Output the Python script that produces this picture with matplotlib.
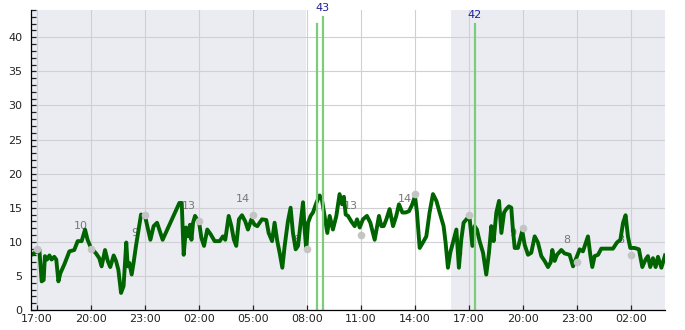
import matplotlib

matplotlib.use("Agg")
import matplotlib.dates as mdates
import matplotlib.pyplot as plt
import pandas as pd
from matplotlib.ticker import MultipleLocator

START = pd.Timestamp("2024-01-01 17:00")

# main trace: hours after START, value
trace_hours = [
    -0.30, 0.00, 0.13, 0.26, 0.37, 0.44, 0.56, 0.69, 0.81, 0.96, 1.07, 1.19, 1.30, 1.52,
    1.80, 2.07, 2.26, 2.48, 2.67, 2.81, 3.00, 3.28, 3.46, 3.59, 3.78, 3.93, 4.07, 4.26,
    4.39, 4.52, 4.67, 4.81, 4.96, 5.04, 5.13, 5.26, 5.37, 5.50, 5.78, 6.00, 6.30, 6.48,
    6.67, 6.98, 7.91, 8.04, 8.15, 8.28, 8.41, 8.50, 8.58, 8.67, 8.78, 8.89, 9.00, 9.13,
    9.28, 9.46, 9.65, 9.87, 10.15, 10.33, 10.46, 10.65, 10.80, 10.94, 11.07, 11.22, 11.39,
    11.57, 11.72, 11.91, 12.09, 12.24, 12.50, 12.74, 12.87, 13.06, 13.20, 13.35, 13.48,
    13.63, 13.76, 13.94, 14.09, 14.22, 14.37, 14.50, 14.65, 14.78, 14.87, 14.96, 15.06,
    15.20, 15.33, 15.52, 15.70, 15.83, 15.98, 16.13, 16.26, 16.44, 16.63, 16.81, 16.95,
    17.05, 17.15, 17.28, 17.46, 17.65, 17.78, 17.93, 18.11, 18.33, 18.52, 18.76, 19.00,
    19.13, 19.26, 19.41, 19.59, 19.78, 19.96, 20.11, 20.30, 20.48, 20.67, 20.85, 21.00,
    21.11, 21.26, 21.44, 21.63, 21.81, 22.00, 22.19, 22.37, 22.59, 22.70, 22.83, 22.96,
    23.11, 23.30, 23.44, 23.57, 23.70, 23.89, 24.04, 24.19, 24.31, 24.44, 24.59, 24.78,
    24.96, 25.11, 25.24, 25.37, 25.52, 25.67, 25.80, 25.95, 26.07, 26.22, 26.35, 26.44,
    26.54, 26.72, 26.96, 27.09, 27.28, 27.46, 27.65, 27.83, 28.02, 28.20, 28.39, 28.54,
    28.63, 28.76, 28.89, 29.13, 29.31, 29.59, 29.78, 29.93, 30.15, 30.33, 30.61, 30.74,
    30.85, 30.98, 31.17, 31.35, 31.63, 32.00, 32.22, 32.41, 32.56, 32.70, 32.83, 32.96,
    33.20, 33.44, 33.63, 33.81, 33.94, 34.07, 34.22, 34.37, 34.50, 34.69, 34.89,
]
trace_values = [
    8.1, 8.6, 8.9, 4.2, 4.4, 7.9, 7.4, 8.0, 7.4, 7.8, 7.4, 4.2, 5.4, 6.7,
    8.6, 8.8, 10.1, 10.1, 11.8, 10.3, 9.1, 8.3, 7.6, 6.4, 8.8, 7.2, 6.3, 8.0,
    7.2, 5.9, 2.5, 3.5, 9.9, 6.4, 6.9, 5.2, 7.0, 9.4, 14.0, 13.8, 10.3, 12.3,
    12.8, 10.3, 15.7, 15.7, 8.1, 12.1, 10.8, 12.5, 10.3, 12.8, 13.8, 13.3, 13.0, 10.6,
    9.4, 11.8, 11.1, 10.1, 10.1, 10.8, 10.3, 13.8, 12.3, 10.3, 9.4, 13.3, 13.9,
    13.0, 11.8, 13.3, 12.5, 12.3, 13.3, 13.2, 11.3, 10.1, 12.8, 10.1, 8.4,
    6.2, 9.4, 13.0, 15.0, 11.3, 8.9, 9.4, 12.8, 15.8, 11.8, 8.9, 12.8,
    13.8, 14.3, 15.7, 16.8, 16.2, 13.8, 11.3, 13.8, 11.8, 13.8, 17.0, 15.5,
    16.6, 14.0, 13.8, 13.0, 12.3, 13.3, 12.1, 13.3, 13.8, 12.8, 10.3, 13.8,
    12.3, 12.3, 13.3, 14.8, 12.3, 13.8, 15.5, 14.3, 14.3, 14.5, 15.5, 16.7,
    14.3, 9.1, 9.9, 10.8, 14.3, 17.0, 16.0, 14.3, 12.3, 9.9, 6.2, 8.4,
    9.9, 11.8, 6.2, 10.3, 12.8, 13.4, 13.3, 9.4, 12.3, 11.8, 10.1, 8.4,
    5.2, 8.4, 12.3, 10.1, 14.3, 16.0, 11.3, 14.3, 14.8, 15.2, 15.0, 11.8,
    9.1, 9.1, 11.6, 9.6, 8.1, 8.4, 10.8, 9.9, 7.9, 7.2, 6.3, 7.0,
    8.8, 7.2, 8.1, 8.8, 8.3, 8.1, 6.4, 7.4, 8.9, 8.6, 10.8, 8.1,
    6.3, 7.9, 8.1, 9.0, 9.0, 9.0, 9.9, 10.3, 12.8, 13.9, 10.8, 9.1,
    9.1, 8.9, 6.3, 7.4, 7.9, 6.3, 7.6, 6.3, 7.8, 6.2, 8.0,
]

# 3-hourly points and their numbers
point_hours = [0, 3, 6, 9, 12, 15, 18, 21, 24, 27, 30, 33]
point_values = [9, 9, 14, 13, 14, 9, 11, 17, 14, 12, 7, 8]
point_labels = [9, 10, 9, 13, 14, 8, 13, 14, 6, 9, 8, 8]

# peaks
peak_hours = [15.54, 15.87, 24.32]
peak_values = [42, 43, 42]
peak_labels = ["", "43", "42"]

# shaded spans (hours after START)
shade_spans = [(-0.5, 14.92), (22.98, 35.5)]


def to_time(hours):
    return START + pd.to_timedelta(hours, unit="h")


fig = plt.figure(figsize=(6.85, 3.3), dpi=100)
ax = fig.add_axes([31 / 685, 20 / 330, 634 / 685, 300 / 330])

for a, b in shade_spans:
    ax.axvspan(to_time(a), to_time(b), color="#ebecf2", lw=0, zorder=0)

ax.grid(True, color="#d0d0d4", lw=0.8, zorder=0.5)
ax.set_axisbelow(True)

# numbers sit up-left of each point, behind the trace
for h, lab in zip(point_hours, point_labels):
    ax.text(to_time(h - 0.56), lab + 2.3, str(lab), ha="center", va="center", fontsize=8,
            color="#777777", zorder=1.5, clip_on=True)

ax.plot(to_time(pd.Series(trace_hours)), trace_values, color="#006400", lw=2.8, zorder=2)

ax.plot(to_time(pd.Series(point_hours)), point_values, "o", color="#c4c4c4", ms=5.5,
        mew=0, zorder=3)

for h, v, lab in zip(peak_hours, peak_values, peak_labels):
    t = to_time(h)
    ax.plot([t, t], [0, v], color="#7ccc7c", lw=1.6, zorder=2.5)
    if lab:
        ax.annotate(lab, (t, v), xytext=(0, 4), textcoords="offset pixels", ha="center",
                    va="bottom", fontsize=8, color="#1f1f99", annotation_clip=False)

ax.set_xlim(to_time(-0.333), to_time(34.89))
ax.set_ylim(0, 44)

ax.xaxis.set_major_locator(mdates.HourLocator(byhour=[2, 5, 8, 11, 14, 17, 20, 23]))
ax.xaxis.set_major_formatter(mdates.DateFormatter("%H:%M"))
ax.yaxis.set_major_locator(MultipleLocator(5))
ax.yaxis.set_minor_locator(MultipleLocator(1))

ax.tick_params(axis="both", which="both", direction="in", length=3.5, width=0.9,
               labelsize=8, colors="#222222")
ax.tick_params(axis="y", which="both", pad=6)
ax.tick_params(axis="x", which="both", pad=3)

for side in ("top", "right"):
    ax.spines[side].set_visible(False)
for side in ("left", "bottom"):
    ax.spines[side].set_color("black")
    ax.spines[side].set_linewidth(0.9)

fig.savefig("out.png", dpi=100)
